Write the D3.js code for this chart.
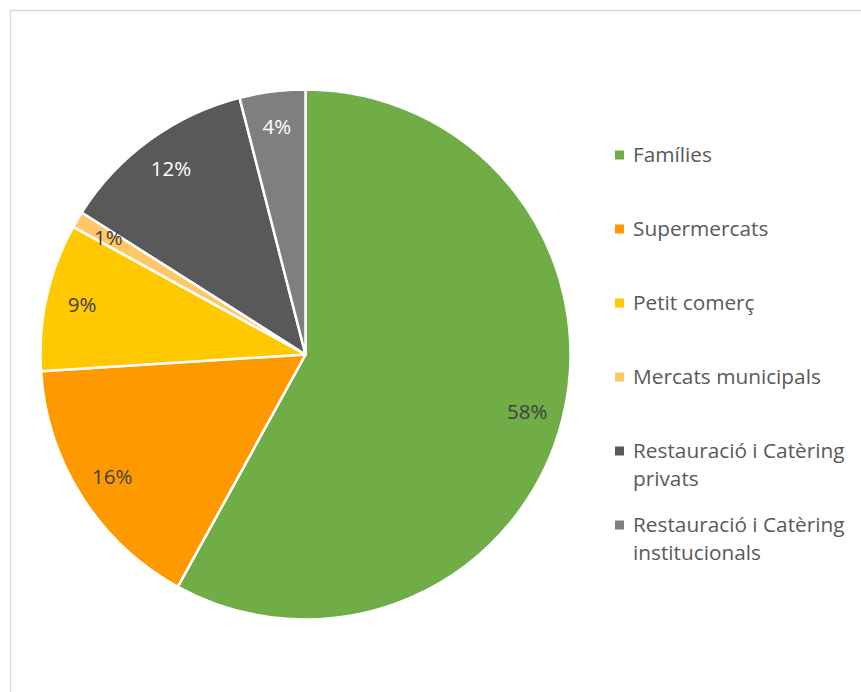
<!DOCTYPE html>
<html>
<head>
<meta charset="utf-8">
<script src="https://cdn.jsdelivr.net/npm/d3@7"></script>
<style>
  body { margin: 0; background: #fff; }
  svg { display: block; }
</style>
</head>
<body>
<svg id="chart" width="861" height="692"></svg>
<script>
// Data
const categories = ["Famílies", "Supermercats", "Petit comerç", "Mercats municipals",
                    "Restauració i Catèring privats", "Restauració i Catèring institucionals"];
const values = [58, 16, 9, 1, 12, 4];
const colors = ["#70AD47", "#FF9900", "#FFC800", "#FFC766", "#595959", "#7F7F7F"];
const labelColors = ["#404040", "#404040", "#404040", "#404040", "#ffffff", "#ffffff"];
// legend lines (wrapped as in the original)
const legendLines = [["Famílies"], ["Supermercats"], ["Petit comerç"], ["Mercats municipals"],
                     ["Restauració i Catèring", "privats"], ["Restauració i Catèring", "institucionals"]];

const svg = d3.select("#chart");
const font = "'Open Sans', sans-serif";

// chart frame (only left and top edge visible in the crop)
svg.append("rect")
    .attr("x", 10.5).attr("y", 10.5)
    .attr("width", 900).attr("height", 800)
    .attr("fill", "none")
    .attr("stroke", "#d9d9d9")
    .attr("stroke-width", 1.5);

const cx = 305.5, cy = 354.5, radius = 265;
const g = svg.append("g").attr("transform", `translate(${cx},${cy})`);

const data = categories.map((c, i) => ({ name: c, value: values[i], i: i }));

const pie = d3.pie().value(d => d.value).sort(null);
const arc = d3.arc().innerRadius(0).outerRadius(radius);
const labelArc = d3.arc().innerRadius(229).outerRadius(229);

const arcs = pie(data);

// Slices
g.selectAll("path.slice")
    .data(arcs)
    .enter().append("path")
    .attr("class", "slice")
    .attr("d", arc)
    .attr("fill", d => colors[d.data.i])
    .attr("stroke", "#fff")
    .attr("stroke-width", 2.5)
    .attr("stroke-linejoin", "round");

// Percentage labels
g.selectAll("text.lbl")
    .data(arcs)
    .enter().append("text")
    .attr("class", "lbl")
    .attr("transform", d => `translate(${labelArc.centroid(d)})`)
    .attr("text-anchor", "middle")
    .attr("dy", "0.35em")
    .attr("font-family", font)
    .attr("font-size", 20.5)
    .attr("fill", d => labelColors[d.data.i])
    .text(d => d.data.value + "%");

// Legend
const legendX = 615;
const rowY = d3.scalePoint().domain(d3.range(categories.length)).range([155, 525]);
const lineH = 28;

const leg = svg.selectAll("g.leg")
    .data(data)
    .enter().append("g")
    .attr("class", "leg")
    .attr("transform", d => `translate(${legendX},${rowY(d.i)})`);

leg.append("rect")
    .attr("x", 0).attr("y", -4.5)
    .attr("width", 9).attr("height", 9)
    .attr("fill", d => colors[d.i]);

leg.append("text")
    .attr("font-family", font)
    .attr("font-size", 20.8)
    .attr("fill", "#595959")
    .selectAll("tspan")
    .data(d => legendLines[d.i])
    .enter().append("tspan")
    .attr("x", 18)
    .attr("y", (t, j) => j * lineH)
    .attr("dy", "0.35em")
    .text(t => t);
</script>
</body>
</html>
